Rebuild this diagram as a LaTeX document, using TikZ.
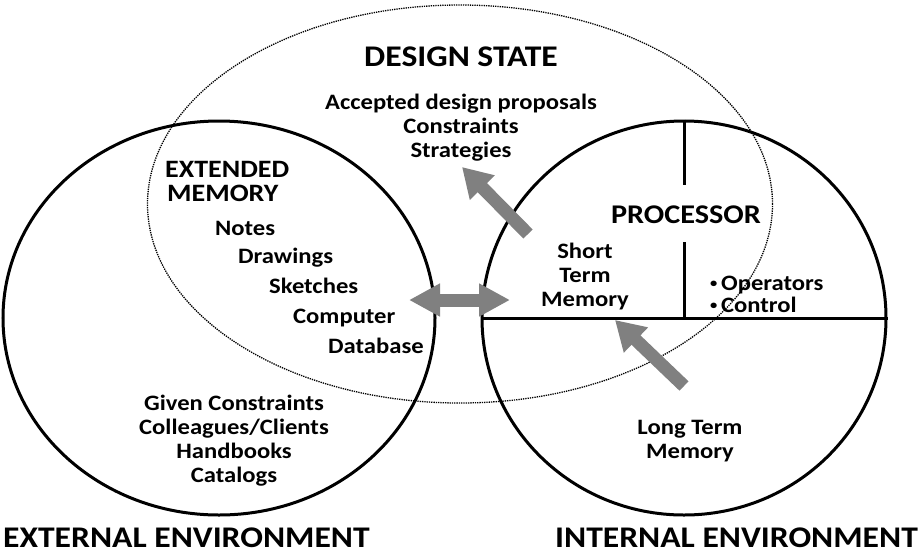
\documentclass[tikz,border=0pt]{standalone}
\usepackage{fontspec}
\setmainfont[FakeStretch=1.12]{Carlito}
\usetikzlibrary{arrows.meta,shapes.geometric}

\tikzset{
  envelope/.style={draw,ellipse,line width=3pt,inner sep=0pt},
  statering/.style={draw,ellipse,line width=1.3pt,densely dotted,inner sep=0pt},
  bigarrow/.style={draw=black!50,line width=13pt,-{Triangle[length=29pt,width=33pt]}},
  twoarrow/.style={draw=black!50,line width=13pt,{Triangle[length=31pt,width=31pt]}-{Triangle[length=31pt,width=31pt]}},
  label/.style={font=\fontsize{22}{24}\selectfont\bfseries,align=center,inner sep=0pt},
  heading/.style={font=\fontsize{25}{24}\selectfont\bfseries,inner sep=0pt},
  envname/.style={font=\fontsize{30}{34}\selectfont\bfseries,inner sep=0pt}
}
\newcommand{\dotmark}{\raisebox{2.5pt}{\fontsize{13}{13}\selectfont\textbullet}\,}

\begin{document}
\begin{tikzpicture}[x=1pt,y=-1pt]
  \useasboundingbox (0,0) rectangle (924,558);

  % the three regions
  \node[statering,minimum width=625pt,minimum height=398pt] (state) at (460,204) {};
  \node[envelope,minimum width=432pt,minimum height=394pt] (ext) at (219,318) {};
  \node[envelope,minimum width=404pt,minimum height=394pt] (int) at (684,318) {};

  % processor partitions
  \coordinate (split) at (684,318);
  \coordinate (gapA) at (684,185);
  \coordinate (gapB) at (684,242);
  \draw[line width=3pt] (int.west) -- (int.east);
  \draw[line width=3pt] (int.north) -- (gapA);
  \draw[line width=3pt] (gapB) -- (split);

  % texts
  \node[font=\fontsize{30}{34}\selectfont\bfseries,inner sep=0pt,anchor=base] (dstate) at (461,66) {DESIGN STATE};
  \node[label] (accepted) at (461,128) {Accepted design proposals\\Constraints\\Strategies};
  \node[heading,anchor=base west] (extmem) at (165,177) {EXTENDED};
  \node[heading,anchor=base west] (extmemb) at (167,201) {MEMORY};
  \node[label,anchor=base west] (notes) at (215,235) {Notes};
  \node[label,anchor=base west] (drawings) at (238,263) {Drawings};
  \node[label,anchor=base west] (sketches) at (269,293) {Sketches};
  \node[label,anchor=base west] (computer) at (293,323) {Computer};
  \node[label,anchor=base west] (database) at (328,353) {Database};
  \node[label] (given) at (234,441) {Given Constraints\\Colleagues/Clients\\Handbooks\\Catalogs};
  \node[font=\fontsize{27}{30}\selectfont\bfseries,inner sep=0pt,anchor=base] (proc) at (686,223) {PROCESSOR};
  \node[label] (stm) at (585,277) {Short\\Term\\Memory};
  \node[label,font=\fontsize{22}{22}\selectfont\bfseries,align=left,anchor=west] (ops) at (710,294) {\dotmark Operators\\\dotmark Control};
  \node[label] (ltm) at (690,441) {Long Term\\Memory};
  \node[envname,anchor=base west] (extenv) at (3,547) {EXTERNAL ENVIRONMENT};
  \node[envname,anchor=base east] (intenv) at (918,547) {INTERNAL ENVIRONMENT};

  % flows
  \coordinate (upT) at (528,234);
  \coordinate (upH) at (462,167);
  \coordinate (xL) at (409,300);
  \coordinate (xR) at (510,300);
  \coordinate (ltT) at (684,386);
  \coordinate (ltH) at (615,320);
  \draw[bigarrow] (upT) -- (upH);
  \draw[twoarrow] (xL) -- (xR);
  \draw[bigarrow] (ltT) -- (ltH);

\end{tikzpicture}
\end{document}
